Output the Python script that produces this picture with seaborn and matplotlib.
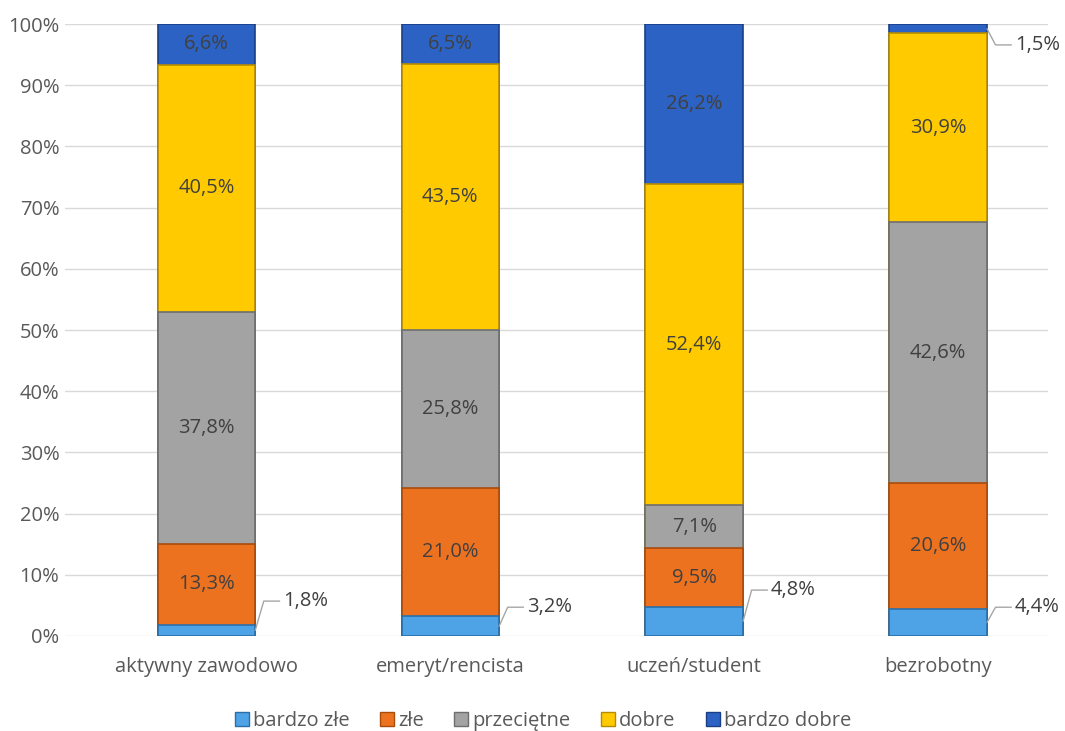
import pandas as pd
import numpy as np
import matplotlib
matplotlib.use("Agg")
import matplotlib.pyplot as plt
import seaborn as sns
from matplotlib.patches import Patch

categories = ["aktywny zawodowo", "emeryt/rencista", "uczeń/student", "bezrobotny"]
series = ["bardzo złe", "złe", "przeciętne", "dobre", "bardzo dobre"]

bardzo_zle = [1.8, 3.2, 4.8, 4.4]
zle = [13.3, 21.0, 9.5, 20.6]
przecietne = [37.8, 25.8, 7.1, 42.6]
dobre = [40.5, 43.5, 52.4, 30.9]
bardzo_dobre = [6.6, 6.5, 26.2, 1.5]

values = [bardzo_zle, zle, przecietne, dobre, bardzo_dobre]
colors = ["#4DA3E6", "#EC7220", "#A3A3A3", "#FFCB00", "#2C62C4"]
edges = ["#2A6FA8", "#A84C0C", "#6E6E6E", "#B58C00", "#1B3F85"]

df = pd.DataFrame({s: v for s, v in zip(series, values)}, index=categories)
cum = df.cumsum(axis=1)

sns.set_theme(style="white")
plt.rcParams["font.family"] = ["Open Sans", "DejaVu Sans"]

fig = plt.figure(figsize=(10.65, 7.31), dpi=100)
ax = fig.add_axes([0.061, 0.130, 0.923, 0.837])

width = 0.4
fs = 14.5
# draw cumulative totals from top layer down so each layer overlays the next
for j in range(len(series) - 1, -1, -1):
    data = pd.DataFrame({"cat": categories, "val": cum[series[j]].values})
    sns.barplot(data=data, x="cat", y="val", color=colors[j], width=width,
                edgecolor=edges[j], linewidth=1.2, saturation=1, ax=ax, zorder=3)

# labels inside segments
outside = {}
for j, s in enumerate(series):
    for i, c in enumerate(categories):
        v = df.loc[c, s]
        top = cum.loc[c, s]
        mid = top - v / 2
        lbl = f"{v:.1f}%".replace(".", ",")
        if v < 5:
            outside[(i, j)] = (mid, lbl)
        else:
            ax.text(i, mid, lbl, ha="center", va="center", fontsize=fs,
                    color="#404040", zorder=5)

# label positions for small segments (layout)
label_y = {(0, 0): 5.7, (1, 0): 4.7, (2, 0): 7.5, (3, 0): 4.7, (3, 4): 96.6}
for (i, j), (mid, lbl) in outside.items():
    ty = label_y[(i, j)]
    xs = [i + width / 2, i + 0.235, i + 0.3]
    ys = [mid, ty, ty]
    ax.plot(xs, ys, color="#A6A6A6", linewidth=1, zorder=4)
    ax.text(i + 0.315, ty, lbl, ha="left", va="center", fontsize=fs,
            color="#404040", zorder=5)

ax.set_ylim(0, 100)
ax.set_xlim(-0.58, 3.45)
ax.set_yticks(np.arange(0, 101, 10))
ax.set_yticklabels([f"{t}%" for t in range(0, 101, 10)])
ax.yaxis.grid(True, color="#D9D9D9", linewidth=1, zorder=0)
ax.set_axisbelow(True)
for sp in ax.spines.values():
    sp.set_visible(False)
ax.set_xlabel("")
ax.set_ylabel("")
ax.tick_params(axis="both", length=0, labelsize=fs, colors="#595959")
ax.tick_params(axis="x", pad=15)
ax.tick_params(axis="y", pad=4)

handles = [Patch(facecolor=colors[k], edgecolor=edges[k], label=series[k])
           for k in range(len(series))]
fig.legend(handles=handles, loc="lower center", bbox_to_anchor=(0.51, -0.025),
           ncol=5, frameon=False, fontsize=fs, labelcolor="#595959",
           handlelength=0.7, handleheight=0.7, handletextpad=0.2,
           columnspacing=1.5)

fig.savefig("out.png", dpi=100)
